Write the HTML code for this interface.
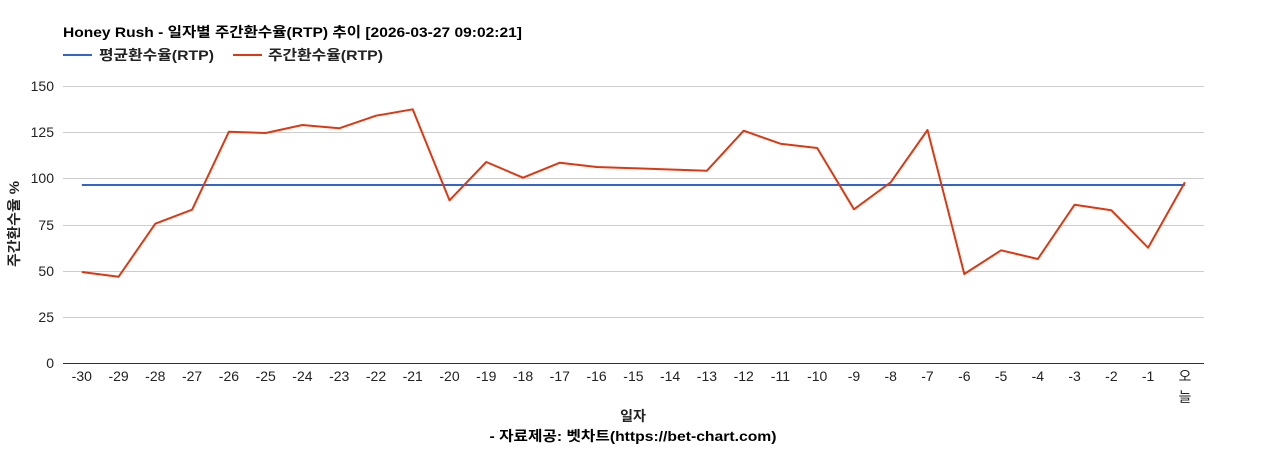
<!DOCTYPE html>
<html><head><meta charset="utf-8"><style>
html,body{margin:0;padding:0;background:#fff;}
svg{display:block;}
</style></head><body>
<svg width="1268" height="450" viewBox="0 0 1268 450" xmlns="http://www.w3.org/2000/svg">
<rect width="1268" height="450" fill="#fff"/>
<g font-family="'Liberation Sans','Noto Sans CJK KR',sans-serif">
<text x="63" y="37" font-size="14" font-weight="bold" fill="#000" textLength="459" lengthAdjust="spacingAndGlyphs">Honey Rush - 일자별 주간환수율(RTP) 추이 [2026-03-27 09:02:21]</text>
<rect x="63" y="54" width="29" height="2" fill="#3366cc"/>
<text x="99" y="60" font-size="14" font-weight="bold" fill="#222" textLength="115" lengthAdjust="spacingAndGlyphs">평균환수율(RTP)</text>
<rect x="233" y="54" width="29" height="2" fill="#dc3912"/>
<text x="268" y="60" font-size="14" font-weight="bold" fill="#222" textLength="115" lengthAdjust="spacingAndGlyphs">주간환수율(RTP)</text>

<g fill="#cccccc">
<rect x="63" y="86" width="1141" height="1"/>
<rect x="63" y="132" width="1141" height="1"/>
<rect x="63" y="178" width="1141" height="1"/>
<rect x="63" y="225" width="1141" height="1"/>
<rect x="63" y="271" width="1141" height="1"/>
<rect x="63" y="317" width="1141" height="1"/>
</g>
<rect x="63" y="363" width="1141" height="1" fill="#333"/>

<g font-size="14" fill="#222" text-anchor="end">
<text x="54" y="91">150</text>
<text x="54" y="137">125</text>
<text x="54" y="183">100</text>
<text x="54" y="230">75</text>
<text x="54" y="276">50</text>
<text x="54" y="322">25</text>
<text x="54" y="368">0</text>
</g>

<text transform="translate(19,224) rotate(-90)" font-size="14" font-weight="bold" fill="#222" text-anchor="middle" textLength="86" lengthAdjust="spacingAndGlyphs">주간환수율 %</text>

<g font-size="14" fill="#222" text-anchor="middle">
<text x="81.8" y="381">-30</text>
<text x="118.6" y="381">-29</text>
<text x="155.3" y="381">-28</text>
<text x="192.1" y="381">-27</text>
<text x="228.9" y="381">-26</text>
<text x="265.7" y="381">-25</text>
<text x="302.4" y="381">-24</text>
<text x="339.2" y="381">-23</text>
<text x="376.0" y="381">-22</text>
<text x="412.7" y="381">-21</text>
<text x="449.5" y="381">-20</text>
<text x="486.3" y="381">-19</text>
<text x="523.0" y="381">-18</text>
<text x="559.8" y="381">-17</text>
<text x="596.6" y="381">-16</text>
<text x="633.4" y="381">-15</text>
<text x="670.1" y="381">-14</text>
<text x="706.9" y="381">-13</text>
<text x="743.7" y="381">-12</text>
<text x="780.4" y="381">-11</text>
<text x="817.2" y="381">-10</text>
<text x="854.0" y="381">-9</text>
<text x="890.7" y="381">-8</text>
<text x="927.5" y="381">-7</text>
<text x="964.3" y="381">-6</text>
<text x="1001.1" y="381">-5</text>
<text x="1037.8" y="381">-4</text>
<text x="1074.6" y="381">-3</text>
<text x="1111.4" y="381">-2</text>
<text x="1148.1" y="381">-1</text>
<text x="1184.9" y="381">오</text>
<text x="1184.9" y="402">늘</text>
</g>

<text x="633" y="421" font-size="14" font-weight="bold" fill="#222" text-anchor="middle">일자</text>
<text x="633" y="441" font-size="14" font-weight="bold" fill="#000" text-anchor="middle" textLength="287" lengthAdjust="spacingAndGlyphs">- 자료제공: 벳차트(https://bet-chart.com)</text>
</g>

<line x1="81.8" y1="185" x2="1184.9" y2="185" stroke="#3366cc" stroke-width="2"/>
<polyline fill="none" stroke="#dc3912" stroke-width="2" stroke-linejoin="round" points="81.8,272 118.6,276.7 155.3,223.7 192.1,209.7 228.9,131.7 265.7,133 302.4,125 339.2,128.3 376.0,115.7 412.7,109.3 449.5,200.3 486.3,162 523.0,177.7 559.8,162.7 596.6,167 633.4,168.2 670.1,169.5 706.9,170.7 743.7,130.7 780.4,143.7 817.2,148 854.0,209.3 890.7,182.3 927.5,130 964.3,274 1001.1,250.3 1037.8,259 1074.6,204.7 1111.4,210.3 1148.1,247.7 1184.9,182.3"/>
</svg>
</body></html>
